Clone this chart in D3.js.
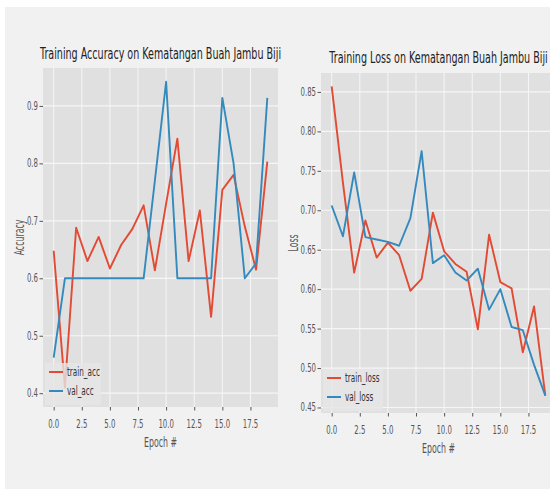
<!DOCTYPE html>
<html>
<head>
<meta charset="utf-8">
<script src="https://cdn.jsdelivr.net/npm/d3@7"></script>
<style>
  body { margin: 0; background: #fff; }
  svg { display: block; }
  text { font-family: "DejaVu Sans", sans-serif; }
</style>
</head>
<body>
<div id="chart"></div>
<script>
// --------------------------------------
//  Data
// --------------------------------------

const epochs = d3.range(20);

const trainAcc = [0.648, 0.41, 0.688, 0.63, 0.672, 0.617, 0.658, 0.686, 0.727, 0.614,
                  0.73, 0.843, 0.63, 0.718, 0.533, 0.754, 0.78, 0.69, 0.615, 0.803];
const valAcc   = [0.462, 0.6, 0.6, 0.6, 0.6, 0.6, 0.6, 0.6, 0.6, 0.77,
                  0.942, 0.6, 0.6, 0.6, 0.6, 0.914, 0.80, 0.6, 0.626, 0.914];

const trainLoss = [0.857, 0.735, 0.621, 0.687, 0.64, 0.659, 0.643, 0.598, 0.613, 0.697,
                   0.648, 0.632, 0.622, 0.549, 0.669, 0.609, 0.601, 0.52, 0.578, 0.465];
const valLoss   = [0.706, 0.667, 0.748, 0.666, 0.663, 0.66, 0.655, 0.69, 0.775, 0.633,
                   0.643, 0.621, 0.611, 0.626, 0.574, 0.6, 0.552, 0.548, 0.504, 0.465];

const xTicks = [0, 2.5, 5, 7.5, 10, 12.5, 15, 17.5];
const accTicks = [0.4, 0.5, 0.6, 0.7, 0.8, 0.9];
const lossTicks = [0.45, 0.5, 0.55, 0.6, 0.65, 0.7, 0.75, 0.8, 0.85];

const red = "#E24A33", blue = "#348ABD";
const SX = 0.58; // the picture is squeezed horizontally

// --------------------------------------
//  Canvas
// --------------------------------------

const width = 550, height = 491;

const svg = d3.select("#chart")
  .append("svg")
    .attr("width", width)
    .attr("height", height);

svg.append("rect")
  .attr("x", 5).attr("y", 7)
  .attr("width", width - 5).attr("height", 482)
  .attr("fill", "#f1f1f1");

function label(g, x, y, txt, size, anchor, rotate) {
  return g.append("text")
    .attr("transform", `translate(${x},${y})` + (rotate ? " rotate(-90)" : "") + ` scale(${SX},1)`)
    .attr("text-anchor", anchor || "middle")
    .attr("font-size", size)
    .attr("fill", "#333")
    .text(txt);
}

// --------------------------------------
//  One panel
// --------------------------------------

function panel(opt) {
  const x = d3.scaleLinear().domain([-0.95, 19.95]).range([opt.left, opt.right]);
  const y = d3.scaleLinear().domain(opt.yDomain).range([opt.bottom, opt.top]);
  const g = svg.append("g");

  g.append("rect")
    .attr("x", opt.left).attr("y", opt.top)
    .attr("width", opt.right - opt.left).attr("height", opt.bottom - opt.top)
    .attr("fill", "#e0e0e0");

  // grid
  g.append("g").selectAll("line.v")
    .data(xTicks)
    .join("line")
      .attr("x1", d => x(d)).attr("x2", d => x(d))
      .attr("y1", opt.top).attr("y2", opt.bottom)
      .attr("stroke", "#f6f6f6").attr("stroke-width", 1);

  g.append("g").selectAll("line.h")
    .data(opt.yTicks)
    .join("line")
      .attr("x1", opt.left).attr("x2", opt.right)
      .attr("y1", d => y(d)).attr("y2", d => y(d))
      .attr("stroke", "#f6f6f6").attr("stroke-width", 1.2);

  // axes
  const xAxis = g.append("g")
    .attr("transform", `translate(0,${opt.bottom})`)
    .call(d3.axisBottom(x).tickValues(xTicks).tickSize(3.5).tickFormat(() => ""));
  const yAxis = g.append("g")
    .attr("transform", `translate(${opt.left},0)`)
    .call(d3.axisLeft(y).tickValues(opt.yTicks).tickSize(3.5).tickFormat(() => ""));
  [xAxis, yAxis].forEach(a => {
    a.select(".domain").remove();
    a.selectAll(".tick line").attr("stroke", "#555");
  });

  xTicks.forEach(t => label(g, x(t), opt.bottom + 21, d3.format(".1f")(t), 12, "middle").attr("fill", "#555"));
  opt.yTicks.forEach(t => label(g, opt.left - 5, y(t) + 4, opt.fmt(t), 12, "end").attr("fill", "#555"));

  // lines
  const line = vals => d3.line().x((d, i) => x(epochs[i])).y(d => y(d))(vals);
  g.append("path").attr("d", line(opt.train)).attr("fill", "none")
    .attr("stroke", red).attr("stroke-width", 1.9).attr("stroke-linejoin", "round");
  g.append("path").attr("d", line(opt.val)).attr("fill", "none")
    .attr("stroke", blue).attr("stroke-width", 1.9).attr("stroke-linejoin", "round");

  // titles
  label(g, (opt.left + opt.right) / 2, opt.titleY, opt.title, 16.5, "middle").attr("fill", "#222");
  label(g, (opt.left + opt.right) / 2, opt.bottom + 40, "Epoch #", 13.5, "middle").attr("fill", "#555");
  label(g, opt.yLabelX, (opt.top + opt.bottom) / 2, opt.yLabel, 13.5, "middle", true).attr("fill", "#555");

  // legend
  const lg = g.append("g").attr("transform", `translate(${opt.left + 2},${opt.bottom - 44})`);
  lg.append("rect").attr("width", opt.legendW).attr("height", 42)
    .attr("fill", "#e6e6e6").attr("opacity", 0.8);
  [[red, opt.names[0]], [blue, opt.names[1]]].forEach((d, i) => {
    lg.append("line").attr("x1", 4).attr("x2", 18)
      .attr("y1", 9 + i * 19).attr("y2", 9 + i * 19)
      .attr("stroke", d[0]).attr("stroke-width", 2);
    label(lg, 22, 13 + i * 19, d[1], 12.5, "start");
  });
}

panel({
  left: 43, right: 278, top: 68, bottom: 407,
  yDomain: [0.376, 0.966], yTicks: accTicks, fmt: d3.format(".1f"),
  train: trainAcc, val: valAcc,
  title: "Training Accuracy on Kematangan Buah Jambu Biji", titleY: 59,
  yLabel: "Accuracy", yLabelX: 24,
  names: ["train_acc", "val_acc"], legendW: 56
});

panel({
  left: 321, right: 556, top: 73, bottom: 413,
  yDomain: [0.443, 0.874], yTicks: lossTicks, fmt: d3.format(".2f"),
  train: trainLoss, val: valLoss,
  title: "Training Loss on Kematangan Buah Jambu Biji", titleY: 63,
  yLabel: "Loss", yLabelX: 298,
  names: ["train_loss", "val_loss"], legendW: 60
});
</script>
</body>
</html>
